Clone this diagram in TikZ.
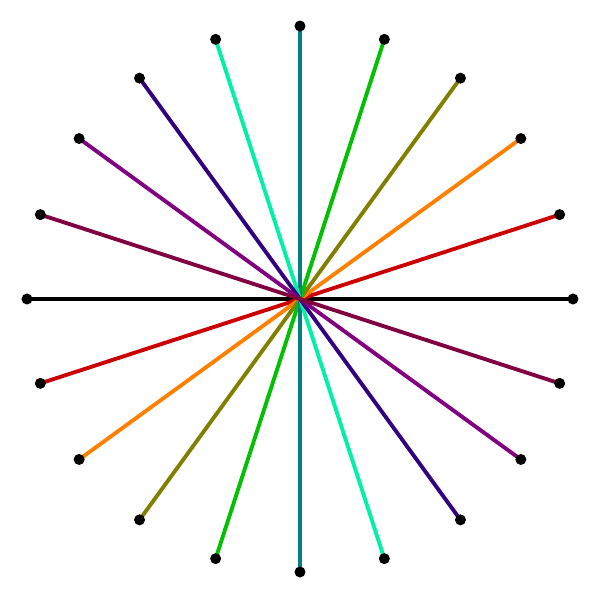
\documentclass[tikz,border=0pt]{standalone}
\usetikzlibrary{positioning}
\definecolor{cRed}{HTML}{CC0000}
\definecolor{cOrange}{HTML}{FF8000}
\definecolor{cOlive}{HTML}{808000}
\definecolor{cGreen}{HTML}{00C000}
\definecolor{cTeal}{HTML}{008080}
\definecolor{cAqua}{HTML}{00F0A8}
\definecolor{cIndigo}{HTML}{330080}
\definecolor{cPurple}{HTML}{800080}
\definecolor{cMaroon}{HTML}{800040}
\begin{document}
\begin{tikzpicture}[
		spoke/.style={line width=1.1pt},
		dot/.style={circle,fill=black,inner sep=0pt,minimum size=0.11cm}
		]
	\useasboundingbox (-3,-3.01) rectangle (3,2.99);
	\fill[white] (-3,-3.01) rectangle (3,2.99);
	\coordinate (c) at (0,0);
	\foreach \a/\col [count=\i] in {0/black,18/cRed,36/cOrange,54/cOlive,72/cGreen,90/cTeal,108/cAqua,126/cIndigo,144/cPurple,162/cMaroon} {
		\coordinate (p\i) at (\a:2.73);
		\coordinate (q\i) at (\a+180:2.73);
		\draw[spoke,\col] (p\i) -- (q\i);
	}
	\foreach \i in {1,...,10} {
		\node [dot] (dp\i) at (p\i) {};
		\node [dot] (dq\i) at (q\i) {};
	}
\end{tikzpicture}
\end{document}
